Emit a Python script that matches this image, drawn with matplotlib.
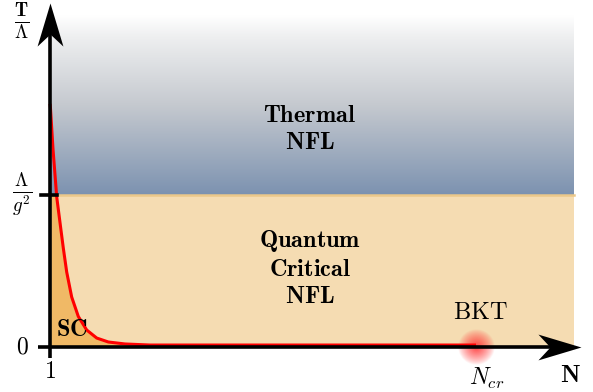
import numpy as np
import matplotlib.pyplot as plt
from matplotlib.colors import LinearSegmentedColormap
from matplotlib.path import Path

plt.rcParams['mathtext.fontset'] = 'cm'
plt.rcParams['font.family'] = 'serif'
plt.rcParams['font.serif'] = ['DejaVu Serif']

N_curve = [1.0, 1.011, 1.063, 1.142, 1.226, 1.281, 1.353, 1.458, 1.598, 1.775,
           1.987, 2.232, 2.585, 3.113, 5.0, 7.5, 10.0]
T_curve = [1.60, 1.566, 1.303, 0.987, 0.783, 0.651, 0.493, 0.329, 0.201, 0.112,
           0.059, 0.033, 0.020, 0.013, 0.013, 0.013, 0.013]

N_cr = 10.0
N_max = 12.07        # right edge of the shaded regions
T_cross = 1.0        # Lambda / g^2
T_top = 2.18

ytick_pos = [0, T_cross, 2.138]
ytick_lab = [r'$0$', r'$\frac{\Lambda}{g^2}$', r'$\frac{\mathbf{T}}{\mathbf{\Lambda}}$']
ytick_fs = [17, 19.5, 19.5]

regions = [
    (6.49, 1.434, r'$\mathbf{Thermal}$' + '\n' + r'$\mathbf{NFL}$'),
    (6.49, 0.52, r'$\mathbf{Quantum}$' + '\n' + r'$\mathbf{Critical}$' + '\n' + r'$\mathbf{NFL}$'),
    (1.465, 0.118, r'$\mathbf{SC}$'),
    (10.09, 0.23, r'$\mathrm{BKT}$'),
]

fig = plt.figure(figsize=(5.93, 3.92), dpi=100)
ax = fig.add_axes([0, 0, 1, 1])
ax.set_xlim(-0.0564, 12.472)
ax.set_ylim(-0.296, 2.283)
ax.axis('off')

# thermal region: vertical gradient white -> grey -> steel blue
cmap = LinearSegmentedColormap.from_list(
    'therm', [(0, '#ffffff'), (0.12, '#eeeff0'), (0.5, '#c5c9cf'), (1, '#7c92b0')])
grad = np.linspace(0, 1, 256).reshape(-1, 1)
ax.imshow(grad, cmap=cmap, extent=[1, N_max, T_cross, T_top], aspect='auto',
          origin='upper', interpolation='bicubic', zorder=1)

# quantum critical band
ax.fill_between([1, N_max], 0, T_cross, color='#f5dcb2', lw=0, zorder=1)
ax.plot([1, N_max], [T_cross, T_cross], color='#ebc88a', lw=1.8, zorder=2)

# superconducting dome under the curve
Nc = np.array(N_curve)
Tc = np.minimum(np.array(T_curve), T_cross)
ax.fill_between(Nc, 0, Tc, color='#f0b966', lw=0, zorder=2)
ax.plot(N_curve, T_curve, color='#ff0000', lw=2.2, zorder=4,
        solid_capstyle='butt', solid_joinstyle='round')

# BKT glow: radial red spot at N_cr
g = np.linspace(-1, 1, 101)
gx, gy = np.meshgrid(g, g)
r = np.hypot(gx, gy)
glow = np.zeros((101, 101, 4))
glow[..., 0] = 1.0
glow[..., 1] = 0.2
glow[..., 2] = 0.2
glow[..., 3] = np.clip(1 - r, 0, 1) ** 0.8 * 0.9
rx, ry = 18 / 47.33, 18 / 152
ax.imshow(glow, extent=[N_cr - rx, N_cr + rx, -ry, ry], aspect='auto',
          interpolation='bilinear', zorder=3)

# axes with stealth arrow heads
head_up = Path([(0, 0), (0.3, -1), (0, -0.72), (-0.3, -1), (0, 0)],
               [Path.MOVETO, Path.LINETO, Path.LINETO, Path.LINETO, Path.CLOSEPOLY])
head_right = Path([(0, 0), (-1, 0.3), (-0.72, 0), (-1, -0.3), (0, 0)],
                  [Path.MOVETO, Path.LINETO, Path.LINETO, Path.LINETO, Path.CLOSEPOLY])
ax.plot([0.746, 12.0], [0, 0], color='k', lw=2.6, zorder=5, solid_capstyle='butt')
ax.plot([1, 1], [-0.072, 2.2], color='k', lw=2.6, zorder=5, solid_capstyle='butt')
ax.plot([12.22], [0], marker=head_right, ms=62, color='k', mew=0, zorder=6)
ax.plot([1], [2.263], marker=head_up, ms=62, color='k', mew=0, zorder=6)
ax.plot([0.81, 1.15], [T_cross, T_cross], color='k', lw=2.6, zorder=5)

for y, lab, fs in zip(ytick_pos, ytick_lab, ytick_fs):
    ax.text(0.41, y, lab, ha='center', va='center', fontsize=fs)
ax.text(1, -0.164, r'$1$', ha='center', va='center', fontsize=17)
ax.text(10.23, -0.204, r'$N_{cr}$', ha='center', va='center', fontsize=17)
ax.text(11.99, -0.19, r'$\mathbf{N}$', ha='center', va='center', fontsize=18)

for x, y, t in regions:
    ax.text(x, y, t, ha='center', va='center', fontsize=17.5, linespacing=1.2, zorder=6)

fig.savefig('out.png', dpi=100)
